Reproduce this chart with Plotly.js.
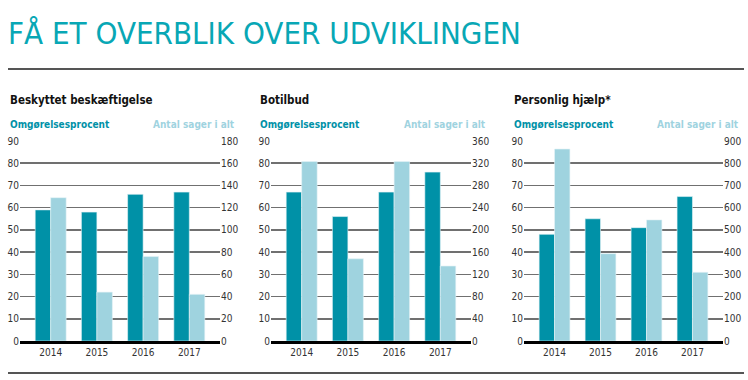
<!DOCTYPE html>
<html><head><meta charset="utf-8">
<script src="https://cdn.plot.ly/plotly-3.0.1.min.js"></script>
<style>html,body{margin:0;padding:0;background:#fff}#chart{width:748px;height:380px}</style>
</head><body><div id="chart"></div>
<script>
const years = ['2014','2015','2016','2017'];
const panelTitles = ['Beskyttet beskæftigelse','Botilbud','Personlig hjælp*'];
const leftLabel = 'Omgørelsesprocent';
const rightLabel = 'Antal sager i alt';
const pctBeskyttet = [59, 58, 66, 67];
const antalBeskyttet = [129, 44, 76, 42];
const pctBotilbud = [67, 56, 67, 76];
const antalBotilbud = [323, 148, 323, 135];
const pctPersonlig = [48, 55, 51, 65];
const antalPersonlig = [864, 393, 545, 309];
const rightMax = [180, 360, 900];
const leftTicks = [0,10,20,30,40,50,60,70,80,90];

const W = 748, H = 380;
const FONT = '"DejaVu Sans Condensed","Liberation Sans Narrow","Roboto",sans-serif';
const DARK = '#0091a7', LIGHT = '#9fd3df', TEAL = '#08a7b5';
const px = x => x / W, py = y => 1 - y / H;
const plotX = [[20,220],[271,471],[524,723]];
const textX = [8, 258, 512];
const rightTextX = [237, 488, 741];
const yDom = [py(341), py(141)];
const pctData = [pctBeskyttet, pctBotilbud, pctPersonlig];
const antalData = [antalBeskyttet, antalBotilbud, antalPersonlig];

const data = [];
const layout = {
  width: W, height: H, margin: {l:0,r:0,t:0,b:0},
  paper_bgcolor: '#fff', plot_bgcolor: 'rgba(0,0,0,0)',
  showlegend: false, font: {family: FONT, size: 10, color: '#333'},
  annotations: [], shapes: []
};
for (let i = 0; i < 3; i++) {
  const xn = i === 0 ? '' : String(i+1);
  const yl = String(2*i+1), yr = String(2*i+2);
  const ylName = yl === '1' ? '' : yl;
  data.push({type:'bar', x: years, y: pctData[i], xaxis: 'x'+xn, yaxis: 'y'+ylName,
    width: 0.335, offset: -0.335, marker: {color: DARK, line: {color: '#e6f4f6', width: 0.6}}, hoverinfo: 'none'});
  data.push({type:'bar', x: years, y: antalData[i], xaxis: 'x'+xn, yaxis: 'y'+yr,
    width: 0.335, offset: 0, marker: {color: LIGHT, line: {color: '#e6f4f6', width: 0.6}}, hoverinfo: 'none'});
  const rTicks = leftTicks.map(v => v * rightMax[i] / 90);
  layout['xaxis'+xn] = {domain: [px(plotX[i][0]), px(plotX[i][1])], anchor: 'y'+ylName,
    type: 'category', range: [-0.664, 3.664], showgrid: false, showline: true, linecolor: '#000', linewidth: 3,
    ticks: '', tickfont: {family: FONT, size: 10, color: '#333'}, fixedrange: true};
  layout['yaxis'+ylName] = {domain: yDom, anchor: 'x'+xn, range: [0, 90], tickvals: leftTicks,
    showgrid: true, gridcolor: '#707070', gridwidth: 1.5, zeroline: false, ticks: '',
    tickfont: {family: FONT, size: 10, color: '#333'}, fixedrange: true};
  layout['yaxis'+yr] = {domain: yDom, anchor: 'x'+xn, overlaying: 'y'+ylName, side: 'right',
    range: [0, rightMax[i]], tickvals: rTicks, showgrid: false, zeroline: false, ticks: '',
    tickfont: {family: FONT, size: 10, color: '#333'}, fixedrange: true};
  layout.annotations.push({xref:'paper', yref:'paper', x: px(textX[i]), y: py(99.5), xanchor:'left', yanchor:'middle',
    text: '<b>'+panelTitles[i]+'</b>', showarrow:false, font:{family: FONT, size: 11.5, color:'#111'}});
  layout.annotations.push({xref:'paper', yref:'paper', x: px(textX[i]), y: py(124), xanchor:'left', yanchor:'middle',
    text: '<b>'+leftLabel+'</b>', showarrow:false, font:{family: FONT, size: 10, color: DARK}});
  layout.annotations.push({xref:'paper', yref:'paper', x: px(rightTextX[i]), y: py(124), xanchor:'right', yanchor:'middle',
    text: '<b>'+rightLabel+'</b>', showarrow:false, font:{family: FONT, size: 10, color: LIGHT}});
}
layout.annotations.push({xref:'paper', yref:'paper', x: px(6), y: py(33), xanchor:'left', yanchor:'middle',
  text: 'FÅ ET OVERBLIK OVER UDVIKLINGEN', showarrow:false, font:{family: FONT, size: 31, color: TEAL}});
layout.shapes.push({type:'line', xref:'paper', yref:'paper', x0: px(8), x1: px(744), y0: py(69), y1: py(69), line:{color:'#555', width:2}});
layout.shapes.push({type:'line', xref:'paper', yref:'paper', x0: px(8), x1: px(744), y0: py(373), y1: py(373), line:{color:'#555', width:2}});
Plotly.newPlot('chart', data, layout, {staticPlot: true, displayModeBar: false});
</script></body></html>
